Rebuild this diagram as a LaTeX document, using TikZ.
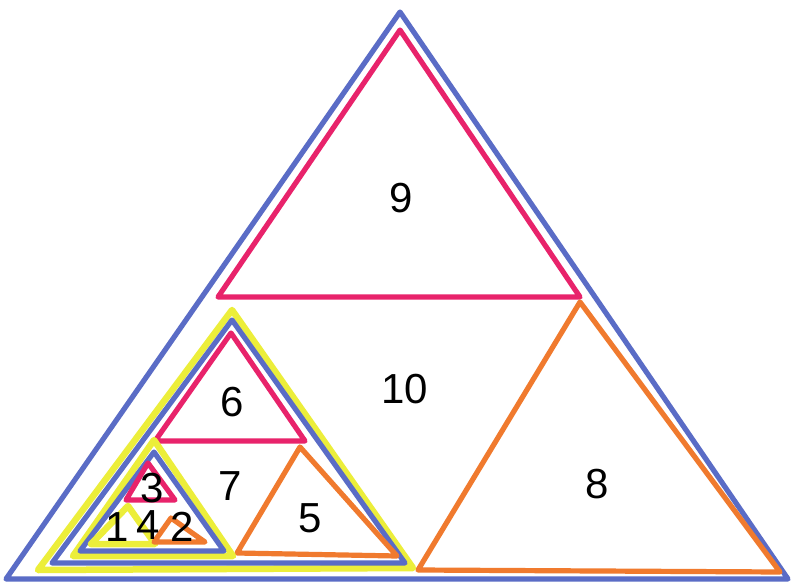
\documentclass[tikz,border=0pt]{standalone}
\usepackage{fontspec}
\setmainfont{Liberation Sans}
\usepackage{xcolor}
\definecolor{triblue}{HTML}{5A6CC6}
\definecolor{tripink}{HTML}{E8236B}
\definecolor{triorange}{HTML}{F07A2E}
\definecolor{triyellow}{HTML}{ECEE3A}

\begin{document}
\begin{tikzpicture}[x=1pt, y=-1pt,
  edge/.style={line width=5.2pt, line join=round},
  blu/.style={edge, draw=triblue},
  pnk/.style={edge, draw=tripink},
  org/.style={edge, draw=triorange},
  ylw/.style={edge, draw=triyellow, line width=6.5pt},
  num/.style={font=\fontsize{42}{42}\selectfont, inner sep=0pt, text=black}
]
\useasboundingbox[fill=white] (0,0) rectangle (795,586);

% outer triangle and its three parts
\draw[blu] (400,12) -- (6,579) -- (788,579) -- cycle;
\draw[pnk] (400,30) -- (218,297) -- (580,297) -- cycle;
\draw[org] (580,302) -- (418,570) -- (780,572) -- cycle;
\draw[ylw] (232,310) -- (38,570) -- (413,568) -- cycle;
\draw[blu] (232,320) -- (52,563) -- (405,563) -- cycle;

% second level
\draw[pnk] (231,333) -- (155,441) -- (305,441) -- cycle;
\draw[org] (300,447) -- (237,553) -- (397,556) -- cycle;
\draw[ylw] (154,440) -- (73,556) -- (233,556) -- cycle;
\draw[blu] (154,452) -- (80,551) -- (224,551) -- cycle;

% third level
\draw[pnk] (148,463) -- (126,500) -- (175,500) -- cycle;
\draw[ylw] (128,506) -- (91,544) -- (155,544) -- cycle;
\draw[org] (171,518) -- (154,542) -- (205,542) -- cycle;

\node[num] (n9)  at (401,198) {9};
\node[num] (n10) at (405,389) {10};
\node[num] (n8)  at (597,484) {8};
\node[num] (n6)  at (232,402) {6};
\node[num] (n7)  at (230,486) {7};
\node[num] (n5)  at (310,518) {5};
\node[num] (n3)  at (152,488) {3};
\node[num] (n1)  at (117,527) {1};
\node[num] (n4)  at (148,525) {4};
\node[num] (n2)  at (182,527) {2};
\end{tikzpicture}
\end{document}
